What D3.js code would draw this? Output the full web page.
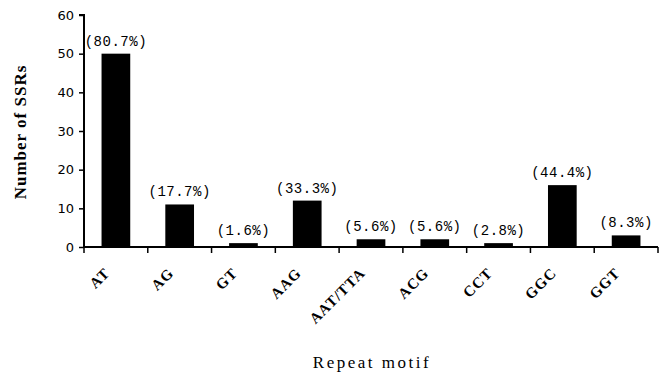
<!DOCTYPE html>
<html>
<head>
<meta charset="utf-8">
<script src="https://cdn.jsdelivr.net/npm/d3@7"></script>
<style>
  body { margin: 0; background: #fff; }
  svg { display: block; }
</style>
</head>
<body>
<div id="chart"></div>
<script>
// data
var motifs = ["AT", "AG", "GT", "AAG", "AAT/TTA", "ACG", "CCT", "GGC", "GGT"];
var counts = [50, 11, 1, 12, 2, 2, 1, 16, 3];
var percents = ["(80.7%)", "(17.7%)", "(1.6%)", "(33.3%)", "(5.6%)", "(5.6%)", "(2.8%)", "(44.4%)", "(8.3%)"];
var yTicks = [0, 10, 20, 30, 40, 50, 60];

var width = 663, height = 376;
var margin = {left: 84, right: 5, top: 15, bottom: 129};

var svg = d3.select("#chart").append("svg")
    .attr("width", width)
    .attr("height", height);

var x = d3.scaleBand()
    .domain(motifs)
    .range([margin.left, 658])
    .paddingInner(0.55)
    .paddingOuter(0.275);

var y = d3.scaleLinear()
    .domain([0, 60])
    .range([247, margin.top]);

var data = motifs.map(function(m, i) {
  return {motif: m, count: counts[i], pct: percents[i]};
});

// bars
svg.append("g").selectAll("rect")
    .data(data)
    .enter().append("rect")
    .attr("x", d => x(d.motif))
    .attr("y", d => y(d.count))
    .attr("width", x.bandwidth())
    .attr("height", d => y(0) - y(d.count))
    .attr("fill", "#000");

// percentage labels
svg.append("g").selectAll("text")
    .data(data)
    .enter().append("text")
    .attr("x", d => x(d.motif) + x.bandwidth() / 2)
    .attr("y", d => y(d.count) - 8)
    .attr("text-anchor", "middle")
    .style("font-family", "'Liberation Mono', monospace")
    .style("font-size", "14px")
    .style("letter-spacing", "0.5px")
    .text(d => d.pct);

// y axis
var yAxis = d3.axisLeft(y).tickValues(yTicks).tickSize(5).tickPadding(5);
var gy = svg.append("g")
    .attr("transform", "translate(" + margin.left + ",0)")
    .call(yAxis);
gy.select(".domain").attr("stroke", "#000").attr("stroke-width", 2)
    .attr("d", "M" + -5 + "," + y(60) + "H0V" + y(0));
gy.selectAll(".tick line").attr("stroke-width", 1.5);
gy.selectAll(".tick text")
    .style("font-family", "'DejaVu Sans', sans-serif")
    .style("font-size", "13px");

// x axis: ticks sit at the band edges
var edges = motifs.map(m => x(m) - x.step() * 0.275).concat([658]);
var gx = svg.append("g").attr("transform", "translate(0," + y(0) + ")");
gx.append("line")
    .attr("x1", margin.left).attr("x2", 658)
    .attr("stroke", "#000").attr("stroke-width", 2);
gx.selectAll("line.tk")
    .data(edges)
    .enter().append("line")
    .attr("class", "tk")
    .attr("x1", d => d).attr("x2", d => d)
    .attr("y1", 0).attr("y2", 6)
    .attr("stroke", "#000").attr("stroke-width", 1.5);

svg.append("g").selectAll("text")
    .data(motifs)
    .enter().append("text")
    .attr("transform", d => "translate(" + (x(d) + x.bandwidth() / 2 - 5) + ",274) rotate(-45)")
    .attr("text-anchor", "end")
    .style("font-family", "'Liberation Serif', 'Times New Roman', serif")
    .style("font-weight", "bold")
    .style("font-size", "15px")
    .style("letter-spacing", "1px")
    .text(d => d);

// axis titles
svg.append("text")
    .attr("transform", "translate(26,132) rotate(-90)")
    .attr("text-anchor", "middle")
    .style("font-family", "'Liberation Serif', 'Times New Roman', serif")
    .style("font-weight", "bold")
    .style("font-size", "17px")
    .style("letter-spacing", "1px")
    .text("Number of SSRs");

svg.append("text")
    .attr("x", 372)
    .attr("y", 368)
    .attr("text-anchor", "middle")
    .style("font-family", "'Liberation Serif', 'Times New Roman', serif")
    .style("font-size", "17px")
    .style("letter-spacing", "2.5px")
    .text("Repeat motif");
</script>
</body>
</html>
